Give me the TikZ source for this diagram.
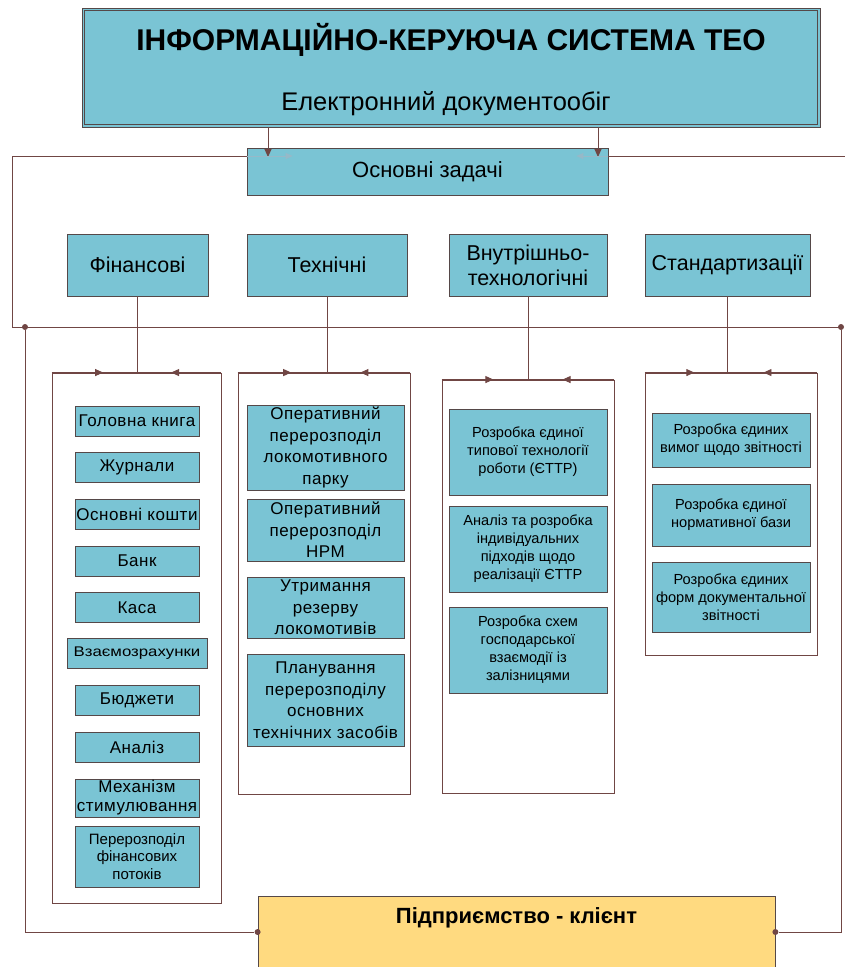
\documentclass[tikz,border=0pt]{standalone}
\usepackage{fontspec}
\setmainfont{Liberation Sans}
\newfontfamily\widefont[LetterSpace=3]{Liberation Sans}
\newfontfamily\stretchfont[FakeStretch=1.2]{Liberation Sans}
\usetikzlibrary{arrows.meta,decorations.markings}

\definecolor{boxfill}{RGB}{122,196,212}
\definecolor{boxline}{RGB}{85,72,72}
\definecolor{linkcol}{RGB}{112,70,68}
\definecolor{clientfill}{RGB}{255,218,128}
\definecolor{faintcol}{RGB}{150,185,200}

\tikzset{
  taskbox/.style={draw=boxline, line width=0.8pt, fill=boxfill, align=center, inner sep=1pt},
  catbox/.style={taskbox, font=\fontsize{21.5}{25}\selectfont, minimum height=62pt},
  finbox/.style={taskbox, font=\widefont\fontsize{17}{19}\selectfont, minimum width=124pt, minimum height=30pt},
  techbox/.style={taskbox, font=\widefont\fontsize{17}{21.5}\selectfont, minimum width=157pt},
  smallbox/.style={taskbox, font=\fontsize{14.6}{18}\selectfont, minimum width=158pt},
  groupbox/.style={draw=linkcol, line width=0.9pt, inner sep=0pt},
  link/.style={draw=linkcol, line width=0.9pt},
  tip/.style={-{Triangle[width=7pt,length=8pt]}},
  midtip/.style={postaction={decorate}, decoration={markings, mark=at position #1 with {\arrow{Triangle[width=7pt,length=8pt]}}}},
  joint/.style={circle, fill=linkcol, inner sep=0pt, minimum size=6pt},
}

\begin{document}
\begin{tikzpicture}[x=1pt, y=-1pt]
\useasboundingbox (0,0) rectangle (845,967);

% header
\node[draw=boxline, line width=0.8pt, fill=boxfill, minimum width=738pt, minimum height=119pt] (teo) at (451,67.5) {};
\draw[boxline, line width=0.8pt] ([shift={(3,3)}]teo.north west) rectangle ([shift={(-3,-3)}]teo.south east);
\node[font=\fontsize{30}{34}\selectfont\bfseries] (teo title) at (451,40) {ІНФОРМАЦІЙНО-КЕРУЮЧА СИСТЕМА ТЕО};
\node[font=\fontsize{25.5}{29}\selectfont] (teo sub) at (446,104) {Електронний документообіг};

\node[taskbox, font=\fontsize{22}{26}\selectfont, minimum width=361pt, minimum height=47pt] (tasks) at (427.5,171.5) {Основні задачі};

% task groups
\node[catbox, minimum width=141pt] (fin) at (137.5,265) {Фінансові};
\node[catbox, minimum width=160pt] (tech) at (327,265) {Технічні};
\node[catbox, minimum width=158pt] (inner) at (528,265) {Внутрішньо-\\технологічні};
\node[catbox, minimum width=165pt] (std) at (727.5,265) {Стандартизації};

\node[groupbox, minimum width=169pt, minimum height=530pt] (fing) at (136.5,638) {};
\node[groupbox, minimum width=172pt, minimum height=421pt] (techg) at (324,583.5) {};
\node[groupbox, minimum width=172pt, minimum height=413pt] (innerg) at (528,586.5) {};
\node[groupbox, minimum width=172pt, minimum height=282pt] (stdg) at (731,514) {};

% financial items
\node[finbox] (ledger) at (137,421) {Головна книга};
\node[finbox] (journals) at (137,467) {Журнали};
\node[finbox] (assets) at (137,514) {Основні кошти};
\node[finbox] (bank) at (137,561) {Банк};
\node[finbox] (cash) at (137,607.5) {Каса};
\node[finbox, font=\stretchfont\fontsize{14}{16}\selectfont, minimum width=140pt] (settle) at (137,653.5) {Взаємозрахунки};
\node[finbox] (budget) at (137,700.5) {Бюджети};
\node[finbox] (analysis) at (137,747) {Аналіз};
\node[finbox, minimum height=38pt] (incent) at (137,798) {Механізм\\стимулювання};
\node[finbox, font=\fontsize{15}{17.5}\selectfont, minimum height=61pt] (flows) at (137,856.5) {Перерозподіл\\фінансових\\потоків};

% technical items
\node[techbox, minimum height=85pt] (loco) at (325.5,447.5) {Оперативний\\перерозподіл\\локомотивного\\парку};
\node[techbox, minimum height=62pt] (nrm) at (325.5,530) {Оперативний\\перерозподіл\\НРМ};
\node[techbox, minimum height=61pt] (reserve) at (325.5,607.5) {Утримання\\резерву\\локомотивів};
\node[techbox, minimum height=92pt] (plan) at (325.5,700) {Планування\\перерозподілу\\основних\\технічних засобів};

% in-house technology items
\node[smallbox, minimum height=86pt] (ettr) at (528,452) {Розробка єдиної\\типової технології\\роботи (ЄТТР)};
\node[smallbox, minimum height=86pt] (approach) at (528,549) {Аналіз та розробка\\індивідуальних\\підходів щодо\\реалізації ЄТТР};
\node[smallbox, minimum height=86pt] (rail) at (528,650) {Розробка схем\\господарської\\взаємодії із\\залізницями};

% standardisation items
\node[smallbox, minimum height=54pt] (report) at (731,440) {Розробка єдиних\\вимог щодо звітності};
\node[smallbox, minimum height=62pt] (norm) at (731,515) {Розробка єдиної\\нормативної бази};
\node[smallbox, minimum height=70pt] (forms) at (731,597) {Розробка єдиних\\форм документальної\\звітності};

% client
\node[draw=boxline, line width=0.8pt, fill=clientfill, minimum width=517pt, minimum height=72pt] (client) at (516.5,932) {};
\node[font=\fontsize{22}{26}\selectfont\bfseries] (client name) at (516.5,918) {Підприємство - клієнт};

% connectors
\coordinate (down l) at (268,157);
\coordinate (down r) at (598,157);
\draw[link, tip] (down l |- teo.south) -- (down l);
\draw[link, tip] (down r |- teo.south) -- (down r);

\coordinate (loop lt) at (12,156);
\coordinate (loop lb) at (12,327);
\coordinate (loop rt) at (845,156);
\coordinate (bus r) at (843,327);
\draw[link] (tasks.west |- loop lt) -- (loop lt) -- (loop lb) -- (bus r);
\draw[link] (tasks.east |- loop rt) -- (loop rt);
\draw[draw=faintcol, line width=0.6pt, -{Triangle[width=6pt,length=7pt]}] (tasks.west |- loop lt) -- ++(46,0);
\draw[draw=faintcol, line width=0.6pt, -{Triangle[width=6pt,length=7pt]}] (tasks.east |- loop rt) -- ++(-32,0);

\node[joint] (bus jl) at (25,327) {};
\node[joint] (bus jr) at (841,327) {};
\node[joint] (client jl) at (client.west) {};
\node[joint] (client jr) at (client.east) {};
\draw[link] (bus jl) -- (bus jl |- client.west) -- (client jl);
\draw[link] (bus jr) -- (bus jr |- client.east) -- (client jr);

\draw[link] (fin.south) -- (fin.south |- fing.north);
\draw[link] (tech.south) -- (tech.south |- techg.north);
\draw[link] (inner.south) -- (inner.south |- innerg.north);
\draw[link] (std.south) -- (std.south |- stdg.north);

\draw[link, midtip=0.6] (fing.north west) -- (fin.south |- fing.north);
\draw[link, midtip=0.6] (fing.north east) -- (fin.south |- fing.north);
\draw[link, midtip=0.6] (techg.north west) -- (tech.south |- techg.north);
\draw[link, midtip=0.6] (techg.north east) -- (tech.south |- techg.north);
\draw[link, midtip=0.6] (innerg.north west) -- (inner.south |- innerg.north);
\draw[link, midtip=0.6] (innerg.north east) -- (inner.south |- innerg.north);
\draw[link, midtip=0.6] (stdg.north west) -- (std.south |- stdg.north);
\draw[link, midtip=0.6] (stdg.north east) -- (std.south |- stdg.north);
\end{tikzpicture}
\end{document}
